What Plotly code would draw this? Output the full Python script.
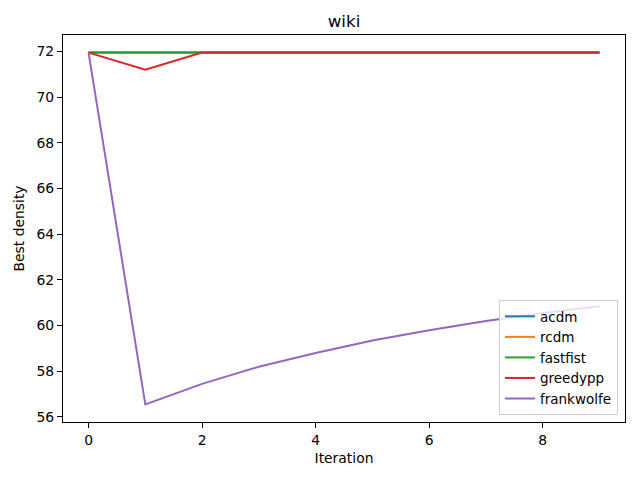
import plotly.graph_objects as go

iterations = list(range(10))
acdm = [71.95] * 10
rcdm = [71.95] * 10
fastfist = [71.95] * 10
greedypp = [71.95, 71.2, 71.95, 71.95, 71.95, 71.95, 71.95, 71.95, 71.95, 71.95]
frankwolfe = [71.95, 56.55, 57.45, 58.2, 58.8, 59.35, 59.8, 60.2, 60.55, 60.85]

series = [
    ("acdm", acdm, "#1f77b4"),
    ("rcdm", rcdm, "#ff7f0e"),
    ("fastfist", fastfist, "#2ca02c"),
    ("greedypp", greedypp, "#d62728"),
    ("frankwolfe", frankwolfe, "#9467bd"),
]

fig = go.Figure()
for name, vals, col in series:
    fig.add_trace(go.Scatter(x=iterations, y=vals, mode="lines", name=name,
                             line=dict(color=col, width=2)))

axis_style = dict(showline=True, linecolor="black", linewidth=1, mirror=True,
                  ticks="outside", ticklen=5, tickcolor="black", showgrid=False,
                  zeroline=False, automargin=False, tickfont=dict(size=13.9, color="black"))

# page body has an 8px margin, so margins are shifted to compensate
fig.update_layout(
    width=640, height=480,
    plot_bgcolor="white", paper_bgcolor="white",
    font=dict(family="DejaVu Sans", color="black"),
    margin=dict(l=55, r=23, t=27, b=66),
    title=dict(text="wiki", x=0.5, xanchor="center", xref="paper",
               y=1 - 13 / 480, yref="container", yanchor="middle", font=dict(size=16.7)),
    xaxis=dict(range=[-0.45, 9.45], tickvals=[0, 2, 4, 6, 8],
               title=dict(text="Iteration", font=dict(size=13.9), standoff=6), **axis_style),
    yaxis=dict(range=[55.78, 72.72], tickvals=list(range(56, 73, 2)),
               title=dict(text="Best density", font=dict(size=13.9), standoff=8), **axis_style),
    legend=dict(x=0.9875, y=0.018, xanchor="right", yanchor="bottom",
                bgcolor="rgba(255,255,255,0.8)", bordercolor="#cccccc", borderwidth=1,
                font=dict(size=13.5), tracegroupgap=0),
    showlegend=True,
)

fig.write_html("out.html")
